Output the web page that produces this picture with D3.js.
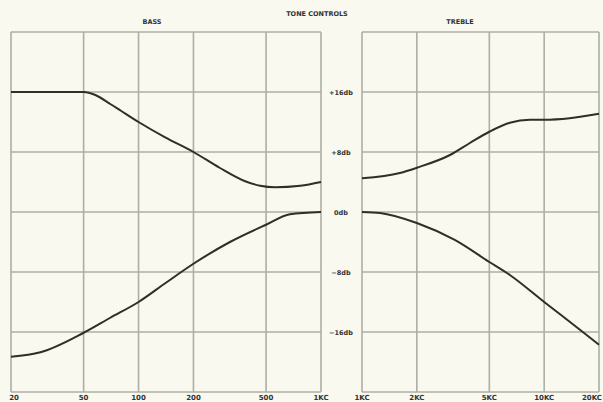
<!DOCTYPE html>
<html><head><meta charset="utf-8">
<script src="https://cdn.jsdelivr.net/npm/d3@7"></script>
<style>
html,body{margin:0;padding:0;background:#f9f9ef;}
svg{display:block;}
text{font-family:"DejaVu Sans",sans-serif;font-weight:bold;fill:#333;}
</style></head><body>
<svg id="c" width="603" height="402"></svg>
<script>
// ---- data ----
const title = "TONE CONTROLS";
const panelTitles = ["BASS", "TREBLE"];
const bassTicks = [20, 50, 100, 200, 500, 1000];
const bassTickLabels = ["20", "50", "100", "200", "500", "1KC"];
const trebleTicks = [1000, 2000, 5000, 10000, 20000];
const trebleTickLabels = ["1KC", "2KC", "5KC", "10KC", "20KC"];
const dbGrid = [24, 16, 8, 0, -8, -16, -24];
const dbLabels = ["+16db", "+8db", "0db", "\u22128db", "\u221216db"];
const dbLabelValues = [16, 8, 0, -8, -16];

const bassBoostF = [20, 35, 50, 58, 70, 80, 100, 140, 200, 278, 384, 464, 560, 770, 1000];
const bassBoostDb = [16, 16, 16, 15.6, 14.4, 13.5, 12, 9.95, 8, 5.9, 4.1, 3.5, 3.3, 3.5, 4];
const bassCutF = [20, 29, 50, 70, 100, 140, 200, 317, 500, 676, 1000];
const bassCutDb = [-19.3, -18.7, -16.1, -14.1, -12, -9.5, -6.9, -4, -1.7, -0.3, 0];
const trebleBoostF = [1000, 1615, 2000, 3040, 3910, 5000, 6480, 8340, 10000, 13800, 20000];
const trebleBoostDb = [4.5, 5.2, 5.9, 7.6, 9.2, 10.7, 11.9, 12.3, 12.3, 12.5, 13.1];
const trebleCutF = [1000, 1255, 2000, 3230, 5000, 6480, 10000, 16300, 20000];
const trebleCutDb = [0, -0.13, -1.47, -3.73, -6.67, -8.4, -12, -16, -17.7];

// ---- layout ----
const svg = d3.select("#c");
const plotTop = 32, plotBottom = 392;
const y = d3.scaleLinear().domain([24, -24]).range([plotTop, plotBottom]);
const xb = d3.scaleLog().domain([20, 1000]).range([11, 321]);
const xt = d3.scaleLog().domain([1000, 20000]).range([362, 599]);
const gridColor = "#adaea4";
const curveColor = "#2e2e2a";

function panel(x, ticks, labels, name, cx) {
  const g = svg.append("g");
  g.selectAll("line.h").data(dbGrid).enter().append("line")
    .attr("x1", x.range()[0]).attr("x2", x.range()[1])
    .attr("y1", d => y(d)).attr("y2", d => y(d))
    .attr("stroke", gridColor).attr("stroke-width", 1.6);
  g.selectAll("line.v").data(ticks).enter().append("line")
    .attr("x1", d => x(d)).attr("x2", d => x(d))
    .attr("y1", plotTop).attr("y2", plotBottom)
    .attr("stroke", gridColor).attr("stroke-width", 1.6);
  const n = ticks.length;
  g.selectAll("text.t").data(ticks).enter().append("text")
    .attr("x", (d, i) => (i === 0 && x === xb) ? x(d) + 3 : (i === n - 1 && x === xt) ? 602 : x(d))
    .attr("y", 400)
    .attr("text-anchor", (d, i) => (i === n - 1 && x === xt) ? "end" : "middle")
    .attr("font-size", 7)
    .text((d, i) => labels[i]);
  g.append("text").attr("x", cx).attr("y", 24)
    .attr("text-anchor", "middle").attr("font-size", 6.5).text(name);
}
panel(xb, bassTicks, bassTickLabels, panelTitles[0], 152);
panel(xt, trebleTicks, trebleTickLabels, panelTitles[1], 460);

svg.append("text").attr("x", 317).attr("y", 16)
  .attr("text-anchor", "middle").attr("font-size", 6.5).text(title);

svg.selectAll("text.db").data(dbLabelValues).enter().append("text")
  .attr("x", 341).attr("y", d => y(d) + 2.5)
  .attr("text-anchor", "middle").attr("font-size", 6.5)
  .text((d, i) => dbLabels[i]);

function curve(x, fs, dbs) {
  const pts = fs.map((f, i) => [x(f), y(dbs[i])]);
  svg.append("path")
    .attr("d", d3.line().curve(d3.curveMonotoneX)(pts))
    .attr("fill", "none").attr("stroke", curveColor).attr("stroke-width", 2);
}
curve(xb, bassBoostF, bassBoostDb);
curve(xb, bassCutF, bassCutDb);
curve(xt, trebleBoostF, trebleBoostDb);
curve(xt, trebleCutF, trebleCutDb);
</script>
</body></html>
